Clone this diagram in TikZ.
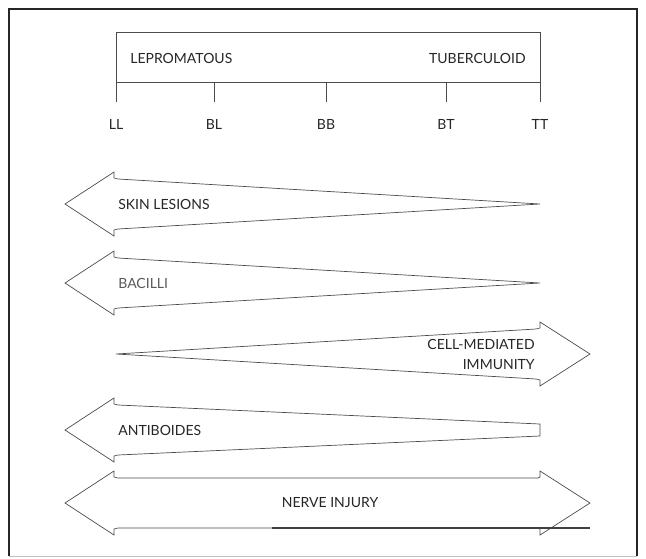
\documentclass[tikz,border=0pt]{standalone}
\usepackage{fontspec}
\setmainfont{Lato}

\begin{document}
\begin{tikzpicture}[x=1pt, y=-1pt, line width=0.7pt, color=black!70,
    label/.style={font=\fontsize{14}{20}\selectfont, inner sep=0pt, text=black!85}]
			\useasboundingbox (0,0) rectangle (646,558);
			
			\def\xL{116};
			\def\xR{540};
			\def\xtipL{65};
			\def\xtipR{590};
			\def\h{32};
			\def\s{25};
			
			% frame
			\draw [line width=1.3pt, black!85] (9,556) -- (9,9) -- (637,9) -- (637,556);
			\draw [black!25] (9,556) -- (637,556);
			
			% spectrum box and ticks
			\draw (\xL,32) rectangle (\xR,82);
			\node [label, anchor=west] (lepro) at (130,58) {LEPROMATOUS};
			\node [label, anchor=east] (tuber) at (526,58) {TUBERCULOID};
			\foreach \x/\lab in {116/LL, 214/BL, 326/BB, 446/BT, 540/TT} {
				\draw (\x,82) -- (\x,102);
				\node [label] (\lab) at (\x,124) {\lab};
			}
			
			% skin lesions
			\def\y{204};
			\draw (\xtipL,\y) -- (\xL-2,\y-\h) -- (\xL-2,\y-\s-1) -- (\xL+2,\y-\s)
				-- (\xR,\y) -- (\xL+2,\y+\s) -- (\xL-2,\y+\s+1) -- (\xL-2,\y+\h) -- cycle;
			\node [label, anchor=west] (skin) at (118,\y) {SKIN LESIONS};
			
			% bacilli
			\def\y{283};
			\draw (\xtipL,\y) -- (\xL-2,\y-\h) -- (\xL-2,\y-\s-1) -- (\xL+2,\y-\s)
				-- (\xR,\y) -- (\xL+2,\y+\s) -- (\xL-2,\y+\s+1) -- (\xL-2,\y+\h) -- cycle;
			\node [label, anchor=west, text=black!65] (bacilli) at (118,\y) {BACILLI};
			
			% cell-mediated immunity
			\def\y{354};
			\draw (\xtipR,\y) -- (\xR,\y-\h) -- (\xR,\y-\s-1) -- (\xR-4,\y-\s)
				-- (\xL,\y) -- (\xR-4,\y+\s) -- (\xR,\y+\s+1) -- (\xR,\y+\h) -- cycle;
			\node [label, anchor=east, align=right] (cmi) at (535,\y) {CELL-MEDIATED\\IMMUNITY};
			
			% antibodies
			\def\y{430};
			\draw (\xtipL,\y) -- (\xL-2,\y-\h) -- (\xL-2,\y-\s-1) -- (\xL+2,\y-\s)
				-- (\xR,\y-6) -- (\xR,\y+6) -- (\xL+2,\y+\s) -- (\xL-2,\y+\s+1) -- (\xL-2,\y+\h) -- cycle;
			\node [label, anchor=west] (anti) at (118,\y) {ANTIBOIDES};
			
			% nerve injury
			\def\y{503};
			\draw (\xtipL,\y) -- (\xL-2,\y-\h) -- (\xL-2,\y-\s-1) -- (\xL+2,\y-\s)
				-- (\xR-2,\y-\s) -- (\xR,\y-\s-1) -- (\xR,\y-\h) -- (\xtipR,\y)
				-- (\xR,\y+\h) -- (\xR,\y+\s+1) -- (\xR-2,\y+\s) -- (\xL+2,\y+\s)
				-- (\xL-2,\y+\s+1) -- (\xL-2,\y+\h) -- cycle;
			\draw [line width=1.1pt, black!75] (272,\y+\s) -- (\xtipR,\y+\s);
			\node [label] (nerve) at (330,\y) {NERVE INJURY};
		\end{tikzpicture}
\end{document}
